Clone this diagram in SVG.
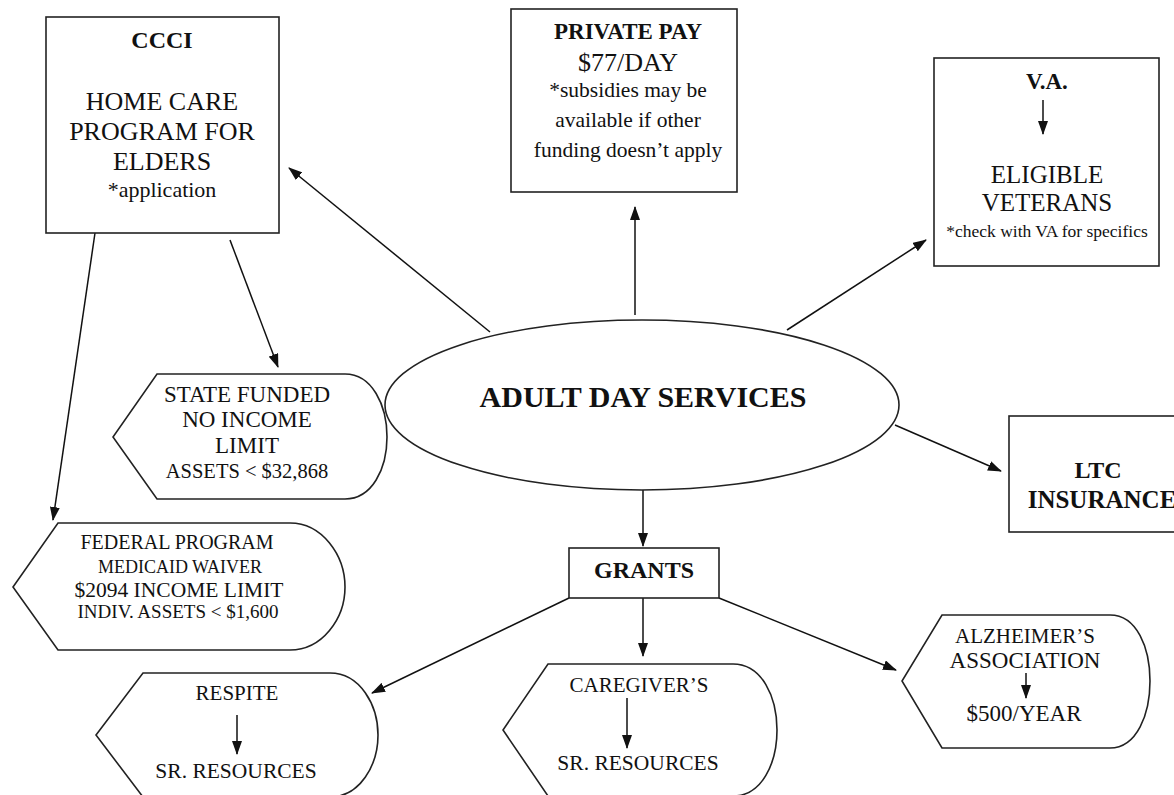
<svg xmlns="http://www.w3.org/2000/svg" width="1174" height="795" viewBox="0 0 1174 795">
<defs>
<style>
.box{fill:#fff;stroke:#222;stroke-width:1.6}
.t{font-family:"Liberation Serif",serif;fill:#111;text-anchor:middle}
.b{font-weight:bold}
.c{stroke:#111;stroke-width:1.5;fill:none}
</style>
<marker id="ah" markerWidth="14" markerHeight="10" refX="13" refY="5" orient="auto" markerUnits="userSpaceOnUse">
<path d="M0,0 L14,5 L0,10 Z" fill="#111"/>
</marker>
</defs>
<rect width="1174" height="795" fill="#fff"/>

<g id="connectors">
<line class="c" x1="490" y1="332" x2="289" y2="168" marker-end="url(#ah)"/>
<line class="c" x1="635" y1="315" x2="635" y2="207" marker-end="url(#ah)"/>
<line class="c" x1="787" y1="330" x2="926" y2="240" marker-end="url(#ah)"/>
<line class="c" x1="895" y1="425" x2="1001" y2="471" marker-end="url(#ah)"/>
<line class="c" x1="643" y1="490" x2="643" y2="546" marker-end="url(#ah)"/>
<line class="c" x1="230" y1="240" x2="278" y2="367" marker-end="url(#ah)"/>
<line class="c" x1="95" y1="233" x2="53" y2="520" marker-end="url(#ah)"/>
<line class="c" x1="569" y1="598" x2="372" y2="693" marker-end="url(#ah)"/>
<line class="c" x1="643" y1="598" x2="643" y2="656" marker-end="url(#ah)"/>
<line class="c" x1="719" y1="598" x2="896" y2="670" marker-end="url(#ah)"/>
</g>

<g id="ccci">
<rect class="box" x="46" y="17" width="233" height="216"/>
<text class="t b" x="162" y="48" font-size="24">CCCI</text>
<text class="t" x="162" y="110" font-size="26">HOME CARE</text>
<text class="t" x="162" y="140" font-size="26">PROGRAM FOR</text>
<text class="t" x="162" y="170" font-size="26">ELDERS</text>
<text class="t" x="162" y="197" font-size="22">*application</text>
</g>

<g id="private-pay">
<rect class="box" x="511" y="9" width="226" height="183"/>
<text class="t b" x="628" y="39" font-size="23">PRIVATE PAY</text>
<text class="t" x="628" y="71" font-size="26">$77/DAY</text>
<text class="t" x="628" y="97" font-size="21.5">*subsidies may be</text>
<text class="t" x="628" y="127" font-size="21.5">available if other</text>
<text class="t" x="628" y="157" font-size="21.5">funding doesn’t apply</text>
</g>

<g id="va">
<rect class="box" x="934" y="58" width="225" height="208"/>
<text class="t b" x="1047" y="89" font-size="23">V.A.</text>
<line class="c" x1="1043" y1="100" x2="1043" y2="134" marker-end="url(#ah)"/>
<text class="t" x="1047" y="183" font-size="25">ELIGIBLE</text>
<text class="t" x="1047" y="211" font-size="25">VETERANS</text>
<text class="t" x="1047" y="237" font-size="17.5">*check with VA for specifics</text>
</g>

<g id="ltc">
<rect class="box" x="1009" y="416" width="180" height="116"/>
<text class="t b" x="1098" y="478" font-size="24">LTC</text>
<text class="t b" x="1102" y="508" font-size="25">INSURANCE</text>
</g>

<g id="adult-day">
<ellipse class="box" cx="642" cy="405" rx="257" ry="85"/>
<text class="t b" x="643" y="407" font-size="30">ADULT DAY SERVICES</text>
</g>

<g id="grants">
<rect class="box" x="569" y="548" width="150" height="50"/>
<text class="t b" x="644" y="578" font-size="24">GRANTS</text>
</g>

<g id="state-funded">
<path class="box" d="M157,374 L345,374 C372,374 387,405 387,437 C387,469 372,499 345,499 L157,499 L113,437 Z"/>
<text class="t" x="247" y="402" font-size="23">STATE FUNDED</text>
<text class="t" x="247" y="427" font-size="23">NO INCOME</text>
<text class="t" x="247" y="453" font-size="23">LIMIT</text>
<text class="t" x="247" y="478" font-size="20.5">ASSETS &lt; $32,868</text>
</g>

<g id="federal">
<path class="box" d="M58,523 L290,523 C322,523 345,555 345,587 C345,619 322,650 290,650 L58,650 L13,587 Z"/>
<text class="t" x="177" y="549" font-size="20">FEDERAL PROGRAM</text>
<text class="t" x="180" y="573" font-size="18">MEDICAID WAIVER</text>
<text class="t" x="179" y="597" font-size="21.5">$2094 INCOME LIMIT</text>
<text class="t" x="178" y="618" font-size="19">INDIV. ASSETS &lt; $1,600</text>
</g>

<g id="respite">
<path class="box" d="M143,673 L330,673 C360,673 378,705 378,735 C378,765 360,797 330,797 L143,797 L96,735 Z"/>
<text class="t" x="237" y="700" font-size="21">RESPITE</text>
<line class="c" x1="237" y1="715" x2="237" y2="754" marker-end="url(#ah)"/>
<text class="t" x="236" y="778" font-size="21.5">SR. RESOURCES</text>
</g>

<g id="caregivers">
<path class="box" d="M548,664 L733,664 C762,664 777,697 777,730 C777,763 762,796 733,796 L548,796 L503,730 Z"/>
<text class="t" x="639" y="692" font-size="21">CAREGIVER’S</text>
<line class="c" x1="627" y1="698" x2="627" y2="748" marker-end="url(#ah)"/>
<text class="t" x="638" y="770" font-size="21.5">SR. RESOURCES</text>
</g>

<g id="alzheimers">
<path class="box" d="M942,615 L1110,615 C1137,615 1150,648 1150,681 C1150,714 1137,748 1110,748 L942,748 L902,681 Z"/>
<text class="t" x="1025" y="643" font-size="21">ALZHEIMER’S</text>
<text class="t" x="1025" y="668" font-size="23">ASSOCIATION</text>
<line class="c" x1="1026" y1="673" x2="1026" y2="698" marker-end="url(#ah)"/>
<text class="t" x="1024" y="721" font-size="23">$500/YEAR</text>
</g>
</svg>
